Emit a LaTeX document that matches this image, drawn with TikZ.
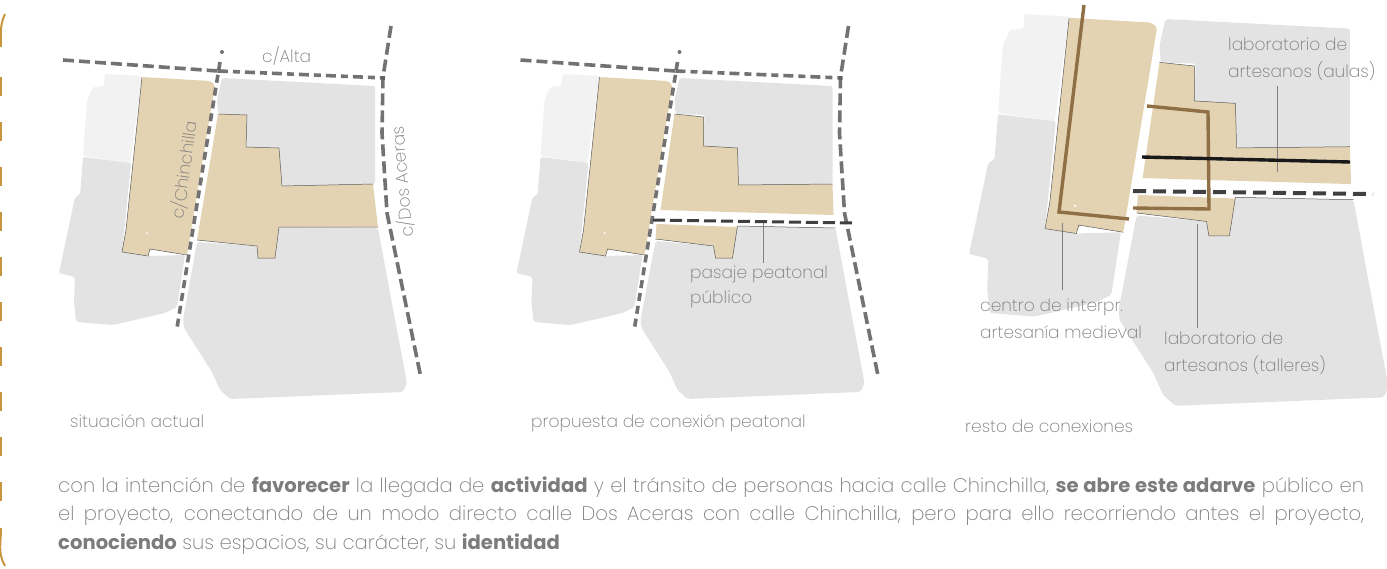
\documentclass[tikz,border=0pt]{standalone}
\usepackage{fontspec}
\setmainfont{Poppins}[UprightFont=* ExtraLight,BoldFont=* Bold]
\usetikzlibrary{positioning}
\definecolor{tanblock}{HTML}{E4D3B3}
\definecolor{grayblock}{HTML}{E3E3E3}
\definecolor{paleblock}{HTML}{F2F2F2}
\definecolor{darkdash}{HTML}{404040}
\definecolor{brownline}{HTML}{8F6F45}
\definecolor{labelgray}{HTML}{7C7C7C}
\definecolor{bracket}{HTML}{C8963C}
\tikzset{
  blockfill/.style={rounded corners=2pt},
  outline/.style={draw=black!65,line width=0.5pt},
  street/.style={draw=black!65,opacity=0.85,line width=3.6pt},
  passage/.style={draw=darkdash,line width=3pt,dash pattern=on 12pt off 5pt},
  leader/.style={draw=black!50,line width=0.6pt},
  label/.style={anchor=base west,inner sep=0pt,text=labelgray,font=\fontsize{17}{17}\selectfont},
  brownpath/.style={draw=brownline,line width=3.4pt},
}
\newcommand{\leftblocks}{
\fill[paleblock,blockfill] (105,74)--(142,76)--(130,163)--(83,156)--(87,100)--(93,87)--(104,86)--cycle;
\fill[grayblock,blockfill] (83,157)--(131,163)--(122,252)--(148,256)--(185,255)--(177,307)--(165,313)--(113,325)--(76,322)--(74,302)--(75,277)--(59,273)--(75,197)--(80,195)--cycle;
\fill[grayblock,blockfill] (222,78)--(375,86)--(375,184)--(282,186)--(279,148)--(246,147)--(247,115)--(218,114)--(217,100)--cycle;
\fill[tanblock,blockfill] (142,77)--(210,81)--(215,85)--(187,255)--(150,249)--(148,256)--(122,252)--(126,230)--cycle;
\draw[outline] (142,77)--(126,230)--(122,252)--(148,256)--(150,249)--(187,255);
\fill[white] (147,233) circle (1);
}
\newcommand{\splitblocks}{
\fill[grayblock,blockfill] (198,241)--(256,246)--(258,258)--(275,258)--(280,226)--(378,228)--(390,293)--(407,383)--(403,392)--(230,399)--(220,390)--(212,372)--(184,328)--(183,320)--cycle;
\fill[tanblock] (217,114)--(246,117)--(246,146)--(280,148)--(281,185)--(375,184)--(376,215)--(203,210)--cycle;
\fill[tanblock] (199,224)--(280,227)--(275,258)--(258,258)--(256,246)--(198,239)--cycle;
\draw[outline] (217,114)--(246,117)--(246,146)--(280,148)--(281,185)--(375,184);
\draw[outline] (198,239)--(256,246)--(258,258)--(275,258)--(280,226)--(378,228);
}
\newcommand{\streets}{
\draw[street,dash pattern=on 11pt off 5pt] (63,60)--(218,71);
\draw[street,dash pattern=on 10pt off 5pt on 7pt off 5pt] (218,71)--(385,78);
\draw[street,dash pattern=on 8pt off 5pt] (220,62)--(177,328);
\fill[black!65,opacity=0.85] (222,52) circle (2);
\draw[street,dash pattern=on 12pt off 5pt] (391,26)--(383,77)--(382,133)--(387,213)--(421,378);
}

\begin{document}
\begin{tikzpicture}[x=1pt,y=-1pt]
\useasboundingbox (0,0) rectangle (1387,568);
% left bracket
\draw[bracket,line width=2pt] (5,14) to[out=-115,in=90] (1,47);
\draw[bracket,line width=2pt,dash pattern=on 19pt off 26pt] (1,77)--(1,505);
\draw[bracket,line width=2pt] (1,528) to[out=-90,in=120] (5,566);

% situacion actual
\begin{scope}
\leftblocks
\fill[grayblock,blockfill] (197,242)--(257,246)--(258,258)--(275,258)--(279,227)--(378,228)--(390,293)--(407,383)--(403,392)--(230,399)--(220,390)--(212,372)--(184,328)--(183,320)--cycle;
\fill[tanblock] (218,114)--(247,115)--(246,147)--(279,148)--(282,186)--(373,184)--(378,227)--(279,227)--(275,258)--(258,258)--(257,246)--(197,240)--cycle;
\draw[outline] (218,114)--(247,115)--(246,147)--(279,148)--(282,186)--(373,184);
\draw[outline] (197,240)--(257,246)--(258,258)--(275,258)--(279,227)--(378,227);
\streets
\end{scope}
\node (alta) at (262,62)[label] {c/Alta};
\node (chinchilla) at (184,170)[label,anchor=center,rotate=82] {c/Chinchilla};
\node (aceras) at (402,182)[label,anchor=center,rotate=95] {c/Dos Aceras};
\node (actual) at (70,427)[label] {situación actual};

% propuesta
\begin{scope}[shift={(457.5,0)}]
\leftblocks
\splitblocks
\streets
\end{scope}
\coordinate (pasajetop) at (763,221);
\coordinate (pasajeend) at (763,263);
\draw[leader] (pasajetop)--(pasajeend);
\draw[passage] (653,220)--(853,223);
\node (pasaje) at (690,278)[label] {pasaje peatonal};
\node (publico) at (690,303)[label] {público};
\node (propuesta) at (531,427)[label] {propuesta de conexión peatonal};

% resto
\begin{scope}[shift={(898,-75)},scale=1.205]
\leftblocks
\splitblocks
\end{scope}
\coordinate (aulastop) at (1277,86);
\coordinate (aulasend) at (1277,172);
\coordinate (centrotop) at (1062,223);
\coordinate (centroend) at (1062,290);
\coordinate (talleretop) at (1197,224);
\coordinate (tallereend) at (1197,328);
\draw[leader] (aulastop)--(aulasend);
\draw[leader] (centrotop)--(centroend);
\draw[leader] (talleretop)--(tallereend);
\draw[brownpath] (1084,5)--(1059,212)--(1129,219);
\draw[brownpath] (1147,106)--(1208,112)--(1209,209)--(1133,208);
\draw[draw=black!90,line width=3.4pt] (1142,157)--(1350,162);
\draw[passage,line width=4pt,dash pattern=on 13pt off 7pt] (1133,191)--(1373,194);
\node (aulasa) at (1228,50)[label] {laboratorio de};
\node (aulasb) at (1228,77)[label] {artesanos (aulas)};
\node (centroa) at (980,311)[label] {centro de interpr.};
\node (centrob) at (980,338)[label] {artesanía medieval};
\node (tallera) at (1164,344)[label] {laboratorio de};
\node (tallerb) at (1164,371)[label] {artesanos (talleres)};
\node (resto) at (965,432)[label] {resto de conexiones};

\node (texto) at (58,492)[label,anchor=base west,text width=1306pt,align=justify,font=\fontsize{19.6}{28.5}\selectfont] {con la intención de \textbf{favorecer} la llegada de \textbf{actividad} y el tránsito de personas hacia calle Chinchilla, \textbf{se abre este adarve} público en\linebreak el proyecto, conectando de un modo directo calle Dos Aceras con calle Chinchilla, pero para ello recorriendo antes el proyecto,\linebreak \textbf{conociendo} sus espacios, su carácter, su \textbf{identidad}};
\end{tikzpicture}
\end{document}
